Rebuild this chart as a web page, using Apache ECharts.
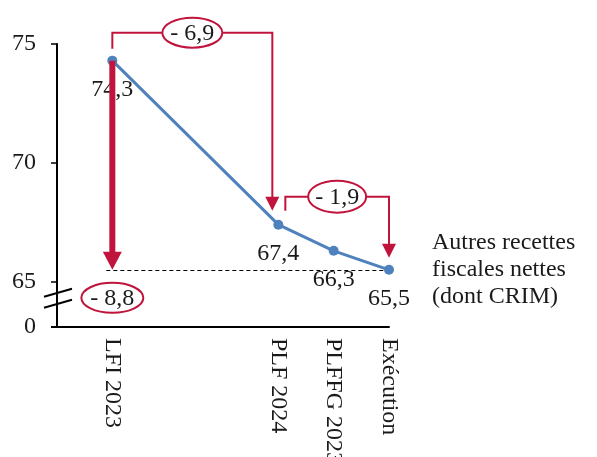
<!DOCTYPE html>
<html>
<head>
<meta charset="utf-8">
<script src="https://cdn.jsdelivr.net/npm/echarts@6/dist/echarts.min.js"></script>
<style>
html,body{margin:0;padding:0;background:#fff;}
#chart{width:597px;height:457px;}
</style>
</head>
<body>
<div id="chart"></div>
<script>
// ---- data ----
const categories = ['', 'LFI 2023', '', '', 'PLF 2024', 'PLFFG 2023', 'Exécution'];
const values = [null, 74.3, null, null, 67.4, 66.3, 65.5];
const seriesNameLines = ['Autres recettes', 'fiscales nettes', '(dont CRIM)'];
const yTicks = [0, 65, 70, 75];
const diffLFItoPLF = '- 6,9';
const diffPLFtoExe = '- 1,9';
const diffLFItoExe = '- 8,8';

const FONT = 'Liberation Serif';
const FS = 24;
const RED = '#C0143C';
const BLUE = '#4F81BD';
const TXT = '#1a1a1a';
const fmt = v => v.toFixed(1).replace('.', ',');

const chart = echarts.init(document.getElementById('chart'), null, {renderer: 'canvas'});

chart.setOption({
  animation: false,
  backgroundColor: '#fff',
  grid: {left: 57, right: 208, top: 44, bottom: 130, containLabel: false, outerBoundsMode: 'none'},
  xAxis: {
    type: 'category',
    data: categories,
    boundaryGap: false,
    axisLine: {lineStyle: {color: '#000', width: 2}},
    axisTick: {show: false},
    axisLabel: {
      interval: 0, rotate: -90, margin: 11,
      fontFamily: FONT, fontSize: FS, color: TXT
    }
  },
  yAxis: {
    type: 'value',
    min: 0, max: 75, interval: 5,
    breaks: [{start: 0, end: 65, gap: '16%'}],
    breakArea: {show: false},
    axisLine: {show: true, lineStyle: {color: '#000', width: 2}},
    axisTick: {show: true, length: 6, lineStyle: {color: '#000', width: 1.5}},
    splitLine: {show: false},
    axisLabel: {
      margin: 21, fontFamily: FONT, fontSize: FS, color: TXT,
      formatter: v => (yTicks.indexOf(v) >= 0 ? String(v) : '')
    }
  },
  series: [{
    name: seriesNameLines.join(' '),
    type: 'line',
    data: values,
    connectNulls: true,
    symbol: 'circle',
    symbolSize: 10,
    lineStyle: {color: BLUE, width: 3},
    itemStyle: {color: BLUE},
    z: 5,
    label: {
      show: true, position: 'bottom', distance: 12,
      fontFamily: FONT, fontSize: FS, color: TXT,
      formatter: p => fmt(p.value)
    },
    endLabel: {
      show: true, distance: 43, align: 'left',
      fontFamily: FONT, fontSize: FS, lineHeight: 27, color: TXT,
      formatter: () => seriesNameLines.join('\n')
    }
  }]
});

// ---- annotations positioned from the axes ----
function px(cat, val) { return chart.convertToPixel({gridIndex: 0}, [cat, val]); }
const pLFI = px('LFI 2023', values[1]);
const pPLF = px('PLF 2024', values[4]);
const pExe = px('Exécution', values[6]);
const p65 = px('LFI 2023', 65);
const p0 = px('LFI 2023', 0);
const axisX = chart.convertToPixel({gridIndex: 0}, [0, 0])[0];

const els = [];
const lineStyle = {stroke: RED, lineWidth: 2, fill: null};
function ellipse(cx, cy, rx, ry, text) {
  els.push({type: 'ellipse', shape: {cx, cy, rx, ry}, style: {fill: '#fff', stroke: RED, lineWidth: 2}, z: 20});
  els.push({type: 'text', x: cx, y: cy + 1, style: {text, fontFamily: FONT, fontSize: FS, fill: TXT, align: 'center', verticalAlign: 'middle'}, z: 21});
}
function arrowHead(x, tipY, w, h) {
  els.push({type: 'polygon', shape: {points: [[x - w / 2, tipY - h], [x + w / 2, tipY - h], [x, tipY]]}, style: {fill: RED}, z: 15});
}

// continuous y axis line through the break, with the tick at 0
els.push({type: 'line', shape: {x1: axisX, y1: p65[1], x2: axisX, y2: p0[1]},
  style: {stroke: '#000', lineWidth: 2}, z: 9});
els.push({type: 'line', shape: {x1: axisX - 6, y1: p0[1], x2: axisX, y2: p0[1]},
  style: {stroke: '#000', lineWidth: 2}, z: 9});

// dashed reference line at execution level
const yd = Math.round(pExe[1]) + 0.5;
els.push({type: 'line', shape: {x1: pLFI[0] - 6, y1: yd, x2: pExe[0], y2: yd},
  style: {stroke: '#000', lineWidth: 1, lineDash: [4, 3]}, z: 3});

// big arrow LFI -> execution
els.push({type: 'line', shape: {x1: pLFI[0], y1: pLFI[1], x2: pLFI[0], y2: pExe[1] - 16},
  style: {stroke: RED, lineWidth: 6}, z: 14});
arrowHead(pLFI[0], pExe[1], 19, 18);
ellipse(pLFI[0], pExe[1] + 28, 31, 15, diffLFItoExe);

// bracket LFI -> PLF
const top1 = pLFI[1] - 28;
const r1 = pPLF[0] - 6;
els.push({type: 'polyline', shape: {points: [[pLFI[0], pLFI[1] - 12], [pLFI[0], top1], [r1, top1], [r1, pPLF[1] - 26]]}, style: lineStyle, z: 12});
arrowHead(r1, pPLF[1] - 14, 14, 14);
ellipse((pLFI[0] + r1) / 2, top1, 30, 15, diffLFItoPLF);

// bracket PLF -> execution
const top2 = pPLF[1] - 28;
const l2 = pPLF[0] + 7;
els.push({type: 'polyline', shape: {points: [[l2, pPLF[1] - 14], [l2, top2], [pExe[0], top2], [pExe[0], pExe[1] - 25]]}, style: lineStyle, z: 12});
arrowHead(pExe[0], pExe[1] - 12, 14, 14);
ellipse((l2 + pExe[0]) / 2, top2, 29, 16, diffPLFtoExe);

// axis break marks
[11, 22].forEach(d => {
  els.push({type: 'line', shape: {x1: axisX - 13, y1: p65[1] + d + 4, x2: axisX + 15, y2: p65[1] + d - 4},
    style: {stroke: '#000', lineWidth: 2}, z: 10});
});

chart.setOption({graphic: {elements: els}});
</script>
</body>
</html>
